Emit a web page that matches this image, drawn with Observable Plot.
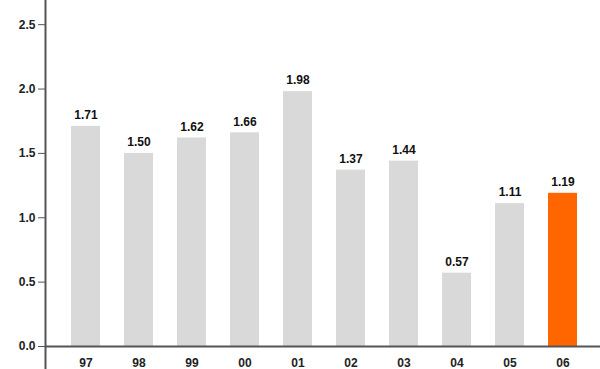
<!DOCTYPE html>
<html>
<head>
<meta charset="utf-8">
<script src="https://cdn.jsdelivr.net/npm/d3@7"></script>
<script src="https://cdn.jsdelivr.net/npm/@observablehq/plot@0.6"></script>
<style>
  body { margin: 0; background: #fff; }
  svg { display: block; }
</style>
</head>
<body>
<div id="chart"></div>
<script>
const years = ["97", "98", "99", "00", "01", "02", "03", "04", "05", "06"];
const values = [1.71, 1.50, 1.62, 1.66, 1.98, 1.37, 1.44, 0.57, 1.11, 1.19];
const highlight = ["06"];
const yTicks = [0, 0.5, 1.0, 1.5, 2.0, 2.5];

const data = years.map((y, i) => ({year: y, value: values[i], hi: highlight.includes(y)}));

const font = "'Liberation Sans Narrow', 'Liberation Sans', Arial, sans-serif";

const chart = Plot.plot({
  width: 600,
  height: 369,
  marginTop: 1,
  marginBottom: 23,
  marginLeft: 45,
  marginRight: 0,
  style: {fontFamily: font, fontSize: "13px", fontWeight: "bold", color: "#222", background: "#fff"},
  x: {domain: years, paddingInner: 0.45, paddingOuter: 0.39, align: 0.54, label: null},
  y: {domain: [0, 2.68], label: null},
  marks: [
    Plot.barY(data, {x: "year", y: "value", fill: d => d.hi ? "#ff6600" : "#d9d9d9"}),
    Plot.text(data, {x: "year", y: "value", text: d => d.value.toFixed(2), dy: -11, fontSize: 12, fontWeight: "bold", fill: "#111"}),
    Plot.axisY({ticks: yTicks, tickFormat: d3.format(".1f"), tickSize: 7, tickPadding: 3, stroke: "#555", fill: "#222", fontSize: 12, fontWeight: "bold"}),
    Plot.axisX({tickSize: 0, tickPadding: 12, fill: "#222", fontSize: 12, fontWeight: "bold"}),
    Plot.ruleY([0], {stroke: "#555", strokeWidth: 2}),
    Plot.frame({anchor: "left", stroke: "#555", strokeWidth: 2, insetBottom: -23, insetTop: -1})
  ]
});
document.getElementById("chart").appendChild(chart);
</script>
</body>
</html>
